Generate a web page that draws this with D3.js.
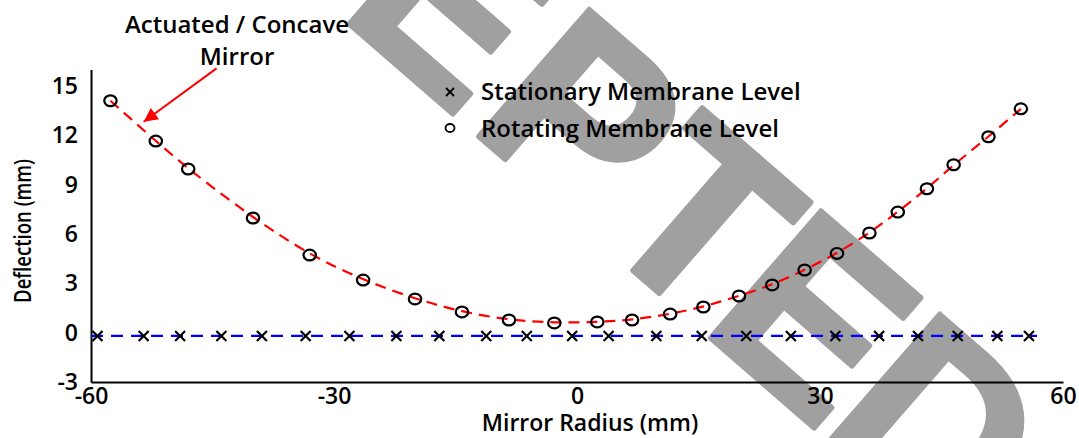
<!DOCTYPE html>
<html>
<head>
<meta charset="utf-8">
<script src="https://cdn.jsdelivr.net/npm/d3@7"></script>
<style>
  body { margin: 0; background: #fff; }
  svg { display: block; }
  text { font-family: "Open Sans", sans-serif; font-weight: 600; fill: #000; }
</style>
</head>
<body>
<div id="chart"></div>
<script>
// tick labels
const xTicks = [-60, -30, 0, 30, 60];
const yTicks = [-3, 0, 3, 6, 9, 12, 15];

// stationary membrane level (x markers)
const stationaryX = [-59.2, -53.5, -49.0, -43.9, -38.9, -33.5, -28.1, -22.3, -17.0, -11.2, -6.2, -0.6,
                     3.9, 9.8, 15.4, 20.9, 26.4, 31.9, 37.3, 42.1, 47.0, 51.9, 55.8];
const stationaryY = [-0.2, -0.2, -0.2, -0.2, -0.2, -0.2, -0.2, -0.2, -0.2, -0.2, -0.2, -0.2,
                     -0.2, -0.2, -0.2, -0.2, -0.2, -0.2, -0.2, -0.2, -0.2, -0.2, -0.2];
// blue dashed fit for the stationary level
const stationaryFitX = [-60, 56.8];
const stationaryFitY = [-0.2, -0.2];

// rotating membrane level (o markers)
const rotatingX = [-57.6, -52.0, -48.0, -40.0, -33.0, -26.4, -20.0, -14.2, -8.4, -2.8, 2.5, 6.8,
                   11.5, 15.6, 20.0, 24.1, 28.1, 32.1, 36.1, 39.6, 43.2, 46.5, 50.8, 54.8];
const rotatingY = [14.1, 11.65, 9.95, 6.97, 4.72, 3.2, 2.05, 1.26, 0.77, 0.59, 0.65, 0.77,
                   1.13, 1.56, 2.23, 2.9, 3.81, 4.82, 6.06, 7.33, 8.75, 10.21, 11.91, 13.61];

// annotation arrow (data units): from label to the curve
const arrowX = [-44.5, -53.5];
const arrowY = [16.07, 12.82];

const W = 1079, H = 438;
const svg = d3.select("#chart").append("svg")
  .attr("width", W)
  .attr("height", H);

// watermark behind the plot, placed by the stem of its "T"
const mark = svg.append("text")
  .attr("transform", "translate(646,282) rotate(41)")
  .attr("x", 0)
  .attr("dx", "0 12 12 12 8 0 -6 -6")
  .style("font-family", "'Liberation Sans', sans-serif")
  .style("font-weight", "bold")
  .style("font-size", "245px")
  .style("fill", "#a0a0a0")
  .style("stroke", "#a0a0a0")
  .style("stroke-width", 5)
  .style("stroke-linejoin", "round")
  .text("ACCEPTED");
const tStart = mark.node().getStartPositionOfChar(5).x;
const tEnd = mark.node().getEndPositionOfChar(5).x;
mark.attr("x", -(tStart + tEnd) / 2);

const x = d3.scaleLinear().domain([-60, 60]).range([91, 1063]);
const y = d3.scaleLinear().domain([-3, 16]).range([382, 69.5]);

// axes
const xAxis = svg.append("g")
  .attr("transform", "translate(0," + y(-3) + ")")
  .call(d3.axisBottom(x).tickValues(xTicks).tickSize(0).tickPadding(6).tickFormat(function(d) { return String(d); }));
const yAxis = svg.append("g")
  .attr("transform", "translate(" + x(-60) + ",0)")
  .call(d3.axisLeft(y).tickValues(yTicks).tickSize(0).tickPadding(13).tickFormat(function(d) { return String(d); }));
[xAxis, yAxis].forEach(function(g) {
  g.select(".domain").attr("stroke", "#000").attr("stroke-width", 2);
  g.selectAll("text")
    .style("font-family", "'Open Sans', sans-serif")
    .style("font-weight", 600)
    .style("font-size", "23px")
    .attr("fill", "#000");
});

// axis titles
svg.append("text")
  .attr("x", 590).attr("y", 431)
  .attr("text-anchor", "middle")
  .style("font-size", "23px")
  .text("Mirror Radius (mm)");
svg.append("text")
  .attr("transform", "translate(31,231) rotate(-90)")
  .attr("text-anchor", "middle")
  .attr("textLength", 144)
  .attr("lengthAdjust", "spacingAndGlyphs")
  .style("font-size", "23px")
  .text("Deflection (mm)");

// blue dashed stationary line
const line = d3.line()
  .x(function(d) { return x(d[0]); })
  .y(function(d) { return y(d[1]); });
svg.append("path")
  .attr("d", line(d3.zip(stationaryFitX, stationaryFitY)))
  .attr("fill", "none")
  .attr("stroke", "#0000ff")
  .attr("stroke-width", 2.2)
  .attr("stroke-dasharray", "12,8");

// red dashed curve through the rotating level
const curve = d3.line()
  .curve(d3.curveBasis)
  .x(function(d) { return x(d[0]); })
  .y(function(d) { return y(d[1]); });
svg.append("path")
  .attr("d", curve(d3.zip(rotatingX, rotatingY)))
  .attr("fill", "none")
  .attr("stroke", "#ff0000")
  .attr("stroke-width", 2.2)
  .attr("stroke-dasharray", "11,7");

// x markers
const cross = 5;
svg.append("g")
  .selectAll("path")
  .data(d3.zip(stationaryX, stationaryY))
  .enter()
  .append("path")
    .attr("d", function(d) {
      const cx = x(d[0]), cy = y(d[1]);
      return "M" + (cx - cross) + "," + (cy - cross) + "L" + (cx + cross) + "," + (cy + cross) +
             "M" + (cx - cross) + "," + (cy + cross) + "L" + (cx + cross) + "," + (cy - cross);
    })
    .attr("stroke", "#000")
    .attr("stroke-width", 2.2);

// o markers
svg.append("g")
  .selectAll("ellipse")
  .data(d3.zip(rotatingX, rotatingY))
  .enter()
  .append("ellipse")
    .attr("cx", function(d) { return x(d[0]); })
    .attr("cy", function(d) { return y(d[1]); })
    .attr("rx", 6.2)
    .attr("ry", 5.4)
    .attr("fill", "none")
    .attr("stroke", "#000")
    .attr("stroke-width", 2.2);

// legend
const legend = svg.append("g");
legend.append("path")
  .attr("d", "M446,88L454,96M446,96L454,88")
  .attr("stroke", "#000").attr("stroke-width", 1.8);
legend.append("text").attr("x", 481).attr("y", 100).style("font-size", "24px")
  .text("Stationary Membrane Level");
legend.append("ellipse")
  .attr("cx", 450).attr("cy", 128).attr("rx", 4.5).attr("ry", 4)
  .attr("fill", "none").attr("stroke", "#000").attr("stroke-width", 1.8);
legend.append("text").attr("x", 481).attr("y", 137).style("font-size", "24px")
  .text("Rotating Membrane Level");

// annotation
svg.append("defs").append("marker")
  .attr("id", "arrowhead")
  .attr("viewBox", "0 0 10 10")
  .attr("refX", 10).attr("refY", 5)
  .attr("markerWidth", 18).attr("markerHeight", 14)
  .attr("markerUnits", "userSpaceOnUse")
  .attr("orient", "auto")
  .append("path")
    .attr("d", "M0,0L10,5L0,10Z")
    .attr("fill", "#ff0000");
svg.append("path")
  .attr("d", line(d3.zip(arrowX, arrowY)))
  .attr("stroke", "#ff0000")
  .attr("stroke-width", 2)
  .attr("marker-end", "url(#arrowhead)");
svg.append("text").attr("x", 237).attr("y", 33).attr("text-anchor", "middle")
  .style("font-size", "24px").text("Actuated / Concave");
svg.append("text").attr("x", 237).attr("y", 65).attr("text-anchor", "middle")
  .style("font-size", "24px").text("Mirror");
</script>
</body>
</html>
